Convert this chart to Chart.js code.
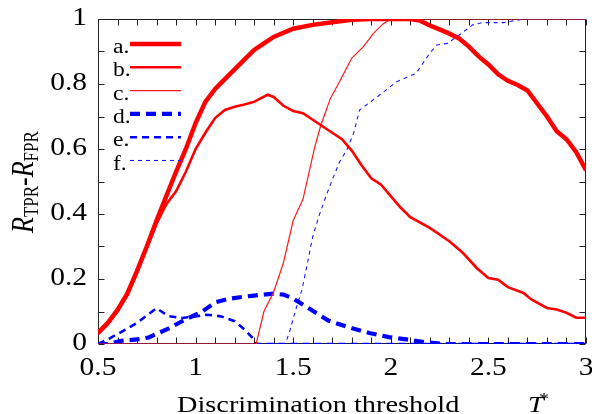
<!DOCTYPE html>
<html>
<head>
<meta charset="utf-8">
<script src="https://cdn.jsdelivr.net/npm/chart.js@4/dist/chart.umd.min.js"></script>
<style>
  html, body { margin: 0; padding: 0; background: #fff; }
  canvas { display: block; }
</style>
</head>
<body>
<canvas id="rocChart" width="592" height="414"></canvas>
<script>
// thresholds (t) and R_TPR - R_FPR values (r) for each curve
const tA = [0.5, 0.55, 0.6, 0.65, 0.7, 0.75, 0.8, 0.85, 0.9, 0.95, 1.0, 1.05, 1.1, 1.15, 1.2, 1.25, 1.3, 1.35, 1.4, 1.5, 1.6, 1.7, 1.8, 1.9, 2.0, 2.1, 2.15, 2.2, 2.25, 2.3, 2.35, 2.4, 2.45, 2.5, 2.55, 2.6, 2.65, 2.7, 2.75, 2.8, 2.85, 2.9, 2.95, 3.0];
const rA = [0.035, 0.065, 0.105, 0.155, 0.225, 0.3, 0.38, 0.455, 0.53, 0.6, 0.68, 0.745, 0.785, 0.815, 0.845, 0.875, 0.905, 0.925, 0.945, 0.97, 0.982, 0.99, 0.998, 1, 1, 1, 0.995, 0.98, 0.968, 0.955, 0.94, 0.915, 0.885, 0.86, 0.83, 0.81, 0.797, 0.78, 0.74, 0.7, 0.655, 0.63, 0.59, 0.535];

const tB = [0.5, 0.55, 0.6, 0.65, 0.7, 0.75, 0.8, 0.85, 0.9, 0.95, 1.0, 1.05, 1.1, 1.15, 1.2, 1.25, 1.3, 1.33, 1.37, 1.4, 1.45, 1.5, 1.55, 1.6, 1.65, 1.7, 1.75, 1.8, 1.85, 1.9, 1.95, 2.0, 2.05, 2.1, 2.2, 2.3, 2.37, 2.44, 2.5, 2.55, 2.6, 2.68, 2.72, 2.8, 2.85, 2.9, 2.95, 3.0];
const rB = [0.03, 0.06, 0.1, 0.15, 0.22, 0.295, 0.37, 0.43, 0.47, 0.53, 0.6, 0.65, 0.695, 0.72, 0.73, 0.737, 0.745, 0.755, 0.767, 0.76, 0.733, 0.717, 0.71, 0.69, 0.67, 0.65, 0.63, 0.595, 0.55, 0.51, 0.49, 0.455, 0.42, 0.39, 0.357, 0.316, 0.28, 0.234, 0.203, 0.198, 0.175, 0.157, 0.137, 0.111, 0.106, 0.096, 0.081, 0.081];

const tC = [0.5, 1.31, 1.35, 1.4, 1.45, 1.5, 1.55, 1.58, 1.61, 1.64, 1.69, 1.74, 1.8, 1.86, 1.91, 1.96, 2.0, 3.0];
const rC = [0, 0, 0.1, 0.16, 0.25, 0.38, 0.445, 0.525, 0.605, 0.67, 0.755, 0.81, 0.88, 0.915, 0.955, 0.985, 1, 1];

const tD = [0.5, 0.55, 0.62, 0.7, 0.76, 0.81, 0.86, 0.93, 1.0, 1.03, 1.1, 1.17, 1.24, 1.3, 1.4, 1.45, 1.5, 1.59, 1.68, 1.78, 1.89, 1.99, 2.08, 2.17, 2.28, 3.0];
const rD = [0, 0, 0.01, 0.014, 0.02, 0.034, 0.047, 0.07, 0.09, 0.098, 0.128, 0.139, 0.145, 0.149, 0.155, 0.152, 0.14, 0.106, 0.072, 0.052, 0.034, 0.021, 0.014, 0.006, 0, 0];

const tE = [0.5, 0.55, 0.64, 0.7, 0.75, 0.8, 0.825, 0.86, 0.93, 1.0, 1.06, 1.13, 1.2, 1.25, 1.3, 1.315, 3.0];
const rE = [0, 0.014, 0.044, 0.065, 0.088, 0.11, 0.1, 0.086, 0.08, 0.085, 0.09, 0.085, 0.07, 0.045, 0.014, 0, 0];

const tF = [0.5, 1.46, 1.485, 1.51, 1.545, 1.57, 1.6, 1.63, 1.665, 1.7, 1.735, 1.775, 1.81, 1.84, 1.93, 2.03, 2.13, 2.2, 2.235, 2.29, 2.34, 2.42, 2.47, 2.58, 2.68, 3.0];
const rF = [0, 0, 0.045, 0.1, 0.167, 0.24, 0.33, 0.39, 0.45, 0.505, 0.557, 0.598, 0.65, 0.72, 0.76, 0.807, 0.833, 0.895, 0.92, 0.925, 0.946, 0.982, 0.989, 0.989, 1, 1];

const xTicks = [0.5, 1, 1.5, 2, 2.5, 3];
const xTickLabels = ['0.5', '1', '1.5', '2', '2.5', '3'];
const yTicks = [0, 0.2, 0.4, 0.6, 0.8, 1];
const yTickLabels = ['0', '0.2', '0.4', '0.6', '0.8', '1'];

const SERIF = '"Liberation Serif", "Times New Roman", serif';
const SX = 1.18; // text in this figure is set wider than tall

function pts(t, r) {
    return t.map((x, i) => ({ x: x, y: r[i] }));
}

const series = [
    { label: 'a.', t: tA, r: rA, color: '#ff0000', width: 4.5, dash: [] },
    { label: 'b.', t: tB, r: rB, color: '#ff0000', width: 2.6, dash: [] },
    { label: 'c.', t: tC, r: rC, color: '#ff1a1a', width: 1.2, dash: [] },
    { label: 'd.', t: tD, r: rD, color: '#0000ff', width: 4.2, dash: [10, 6] },
    { label: 'e.', t: tE, r: rE, color: '#0000ff', width: 2.6, dash: [7, 5] },
    { label: 'f.', t: tF, r: rF, color: '#1a1aff', width: 1.1, dash: [4, 4] }
];

function stretchedText(ctx, s, x, y, align, font) {
    ctx.save();
    ctx.font = font;
    ctx.translate(x, y);
    ctx.scale(SX, 1);
    ctx.textAlign = align;
    ctx.textBaseline = 'alphabetic';
    ctx.fillText(s, 0, 0);
    ctx.restore();
}

const framePlugin = {
    id: 'frame',
    beforeDatasetsDraw(chart) {
        const ctx = chart.ctx;
        const a = chart.chartArea;
        const xs = chart.scales.x, ys = chart.scales.y;
        const L = Math.round(a.left) + 0.5, R = Math.round(a.right) - 0.5;
        const T = Math.round(a.top) + 0.5, B = Math.round(a.bottom) - 0.5;
        ctx.save();
        ctx.strokeStyle = '#222';
        ctx.lineWidth = 1;
        ctx.strokeRect(L, T, R - L, B - T);
        ctx.beginPath();
        // inward ticks every 0.1 on all four sides
        for (let i = 5; i <= 30; i++) {
            const px = Math.round(xs.getPixelForValue(i / 10)) + 0.5;
            ctx.moveTo(px, B); ctx.lineTo(px, B - 6);
            ctx.moveTo(px, T); ctx.lineTo(px, T + 6);
        }
        for (let i = 0; i <= 10; i++) {
            const py = Math.round(ys.getPixelForValue(i / 10)) + 0.5;
            ctx.moveTo(L, py); ctx.lineTo(L + 6, py);
            ctx.moveTo(R, py); ctx.lineTo(R - 6, py);
        }
        ctx.stroke();
        ctx.restore();
    },
    afterDraw(chart) {
        const ctx = chart.ctx;
        const a = chart.chartArea;
        const xs = chart.scales.x, ys = chart.scales.y;
        ctx.save();
        ctx.fillStyle = '#000';

        // tick labels
        const tickFont = '25px ' + SERIF;
        yTicks.forEach((v, i) => {
            stretchedText(ctx, yTickLabels[i], a.left - 11, ys.getPixelForValue(v) + 6, 'right', tickFont);
        });
        xTicks.forEach((v, i) => {
            stretchedText(ctx, xTickLabels[i], xs.getPixelForValue(v), a.bottom + 31, 'center', tickFont);
        });

        // x title: Discrimination threshold T*
        stretchedText(ctx, 'Discrimination threshold', 177, 412, 'left', '24px ' + SERIF);
        stretchedText(ctx, 'T', 528, 412, 'left', 'italic 24px ' + SERIF);
        stretchedText(ctx, '*', 539, 404, 'left', '17px ' + SERIF);

        // y title: R_TPR - R_FPR, rotated
        ctx.save();
        ctx.translate(33, 233);
        ctx.scale(SX, 1);
        ctx.rotate(-Math.PI / 2);
        ctx.textBaseline = 'alphabetic';
        ctx.textAlign = 'left';
        let x = 0;
        const parts = [
            ['R', 'italic 26px ' + SERIF, 0],
            ['TPR', '17px ' + SERIF, 4],
            ['-', '26px ' + SERIF, 0],
            ['R', 'italic 26px ' + SERIF, 0],
            ['FPR', '17px ' + SERIF, 4]
        ];
        parts.forEach(p => {
            ctx.font = p[1];
            ctx.fillText(p[0], x, p[2]);
            x += ctx.measureText(p[0]).width;
        });
        ctx.restore();

        // legend in the upper left of the plot
        chart.data.datasets.forEach((ds, i) => {
            const ly = 44 + i * 23.3;
            stretchedText(ctx, ds.label, 113, ly + 9, 'left', '20px ' + SERIF);
            ctx.save();
            ctx.strokeStyle = ds.borderColor;
            ctx.lineWidth = ds.borderWidth;
            ctx.setLineDash(ds.borderDash);
            ctx.beginPath();
            ctx.moveTo(130, ly);
            ctx.lineTo(181, ly);
            ctx.stroke();
            ctx.restore();
        });
        ctx.restore();
    }
};

const ctx = document.getElementById('rocChart').getContext('2d');
new Chart(ctx, {
    type: 'line',
    data: {
        datasets: series.map(s => ({
            label: s.label,
            data: pts(s.t, s.r),
            borderColor: s.color,
            borderWidth: s.width,
            borderDash: s.dash,
            pointRadius: 0,
            tension: 0,
            fill: false
        }))
    },
    options: {
        responsive: false,
        animation: false,
        devicePixelRatio: 1,
        layout: { padding: { left: 0, top: 19, right: 6, bottom: 0 } },
        plugins: { legend: { display: false }, tooltip: { enabled: false } },
        scales: {
            x: {
                type: 'linear', min: 0.5, max: 3,
                ticks: { display: false },
                grid: { display: false },
                border: { display: false },
                afterFit: s => { s.height = 70; }
            },
            y: {
                type: 'linear', min: 0, max: 1,
                ticks: { display: false },
                grid: { display: false },
                border: { display: false },
                afterFit: s => { s.width = 98; }
            }
        }
    },
    plugins: [framePlugin]
});
</script>
</body>
</html>
